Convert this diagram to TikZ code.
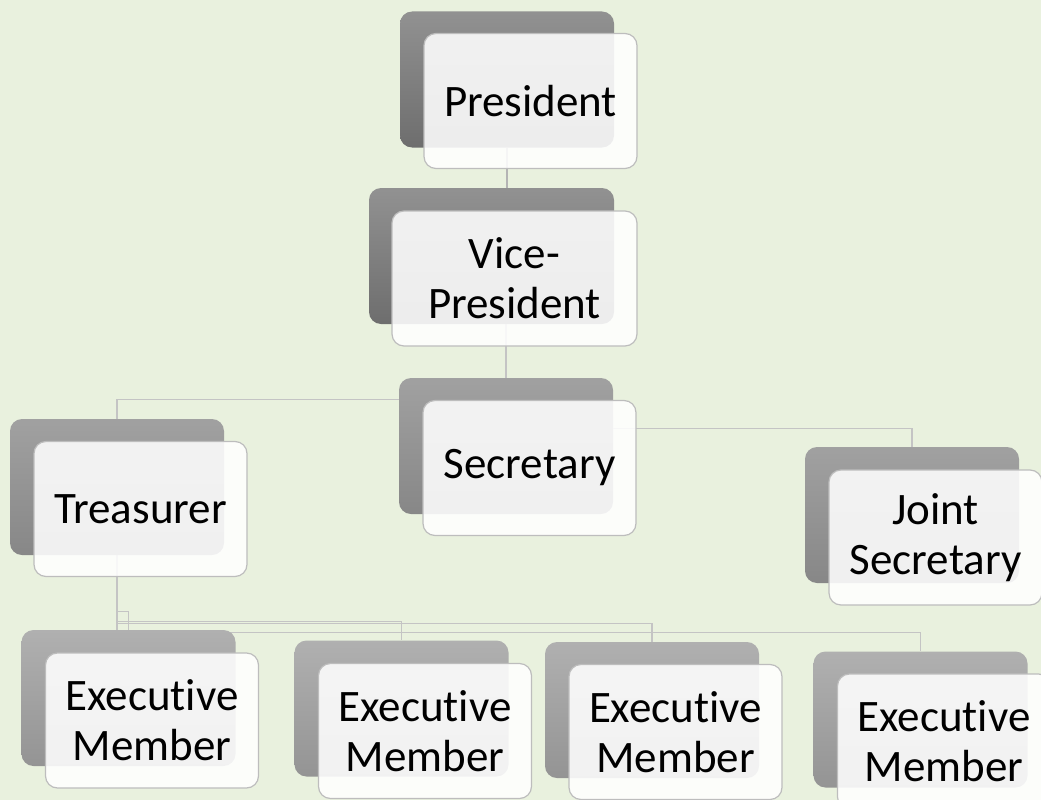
\documentclass[tikz,border=0pt]{standalone}
\usepackage{fontspec}
\setmainfont{Carlito}[Ligatures={NoCommon,NoDiscretionary,NoContextual}]
\usetikzlibrary{backgrounds}
\definecolor{bgc}{HTML}{E9F1DE}
\definecolor{frameC}{HTML}{BDBDBD}
\definecolor{lineC}{HTML}{C4C4C4}
\definecolor{lineD}{HTML}{B4B4B4}
\newcommand{\execmem}{Execut\kern0pt ive\\Member}
\begin{document}
\begin{tikzpicture}[x=1pt,y=-1pt,
  backbox/.style={rectangle, rounded corners=12pt, inner sep=0pt,
    minimum height=136pt, minimum width=214pt},
  frontbox/.style={rectangle, rounded corners=12pt, inner sep=0pt,
    minimum height=135pt, minimum width=213pt, draw=frameC, line width=1.2pt,
    fill=white, fill opacity=0.88, text opacity=1, align=center,
    font=\fontsize{45}{50}\selectfont},
  lvA/.style={top color=black!43, bottom color=black!57},
  lvB/.style={top color=black!37, bottom color=black!47},
  lvC/.style={top color=black!31, bottom color=black!42},
  link/.style={draw=lineC, line width=1.3pt},
  linkup/.style={draw=lineD, line width=2pt}]
\useasboundingbox (0,0) rectangle (1041,800);
\clip (0,0) rectangle (1041,800);
% back boxes
\node[backbox, lvA] (pB) at (507,79.5) {};
\node[backbox, lvA, minimum width=245pt] (vB) at (491.5,256) {};
\node[backbox, lvB] (sB) at (506,446) {};
\node[backbox, lvB] (tB) at (117,487) {};
\node[backbox, lvB] (jB) at (912,515) {};
\node[backbox, lvC] (e1B) at (128.5,698) {};
\node[backbox, lvC] (e2B) at (401.5,708.5) {};
\node[backbox, lvC] (e3B) at (652,710) {};
\node[backbox, lvC] (e4B) at (920.5,719.5) {};
% front boxes
\node[frontbox] (p) at (530.5,101) {President};
\node[frontbox, minimum width=245pt] (v) at (514.5,278.5) {Vice-\\President};
\node[frontbox] (s) at (529.5,468) {Secretary};
\node[frontbox] (t) at (140.5,509) {Treasurer};
\node[frontbox] (j) at (935.5,537.5) {Joint\\Secretary};
\node[frontbox] (e1) at (152,720.5) {\execmem};
\node[frontbox] (e2) at (425,731) {\execmem};
\node[frontbox] (e3) at (675.5,732) {\execmem};
\node[frontbox] (e4) at (944,741.5) {\execmem};
\begin{scope}[on background layer]
\fill[bgc] (0,0) rectangle (1041,800);
\draw[linkup] (pB.south) -- (vB.south -| pB.south);
\draw[linkup] (vB.south -| sB.north) -- (sB.north);
\draw[link] (vB.south -| sB.north) -- ++(0,75) -| (tB.north);
\draw[link] (vB.south -| sB.north) -- ++(0,104) -| (jB.north);
\draw[link] (tB.south) -- ++(0,56) -| (e1B.north);
\draw[link] (tB.south) -- ++(0,66) -| (e2B.north);
\draw[link] (tB.south) -- ++(0,68) -| (e3B.north);
\draw[link] (tB.south) -- ++(0,77) -| (e4B.north);
\end{scope}
\end{tikzpicture}
\end{document}
